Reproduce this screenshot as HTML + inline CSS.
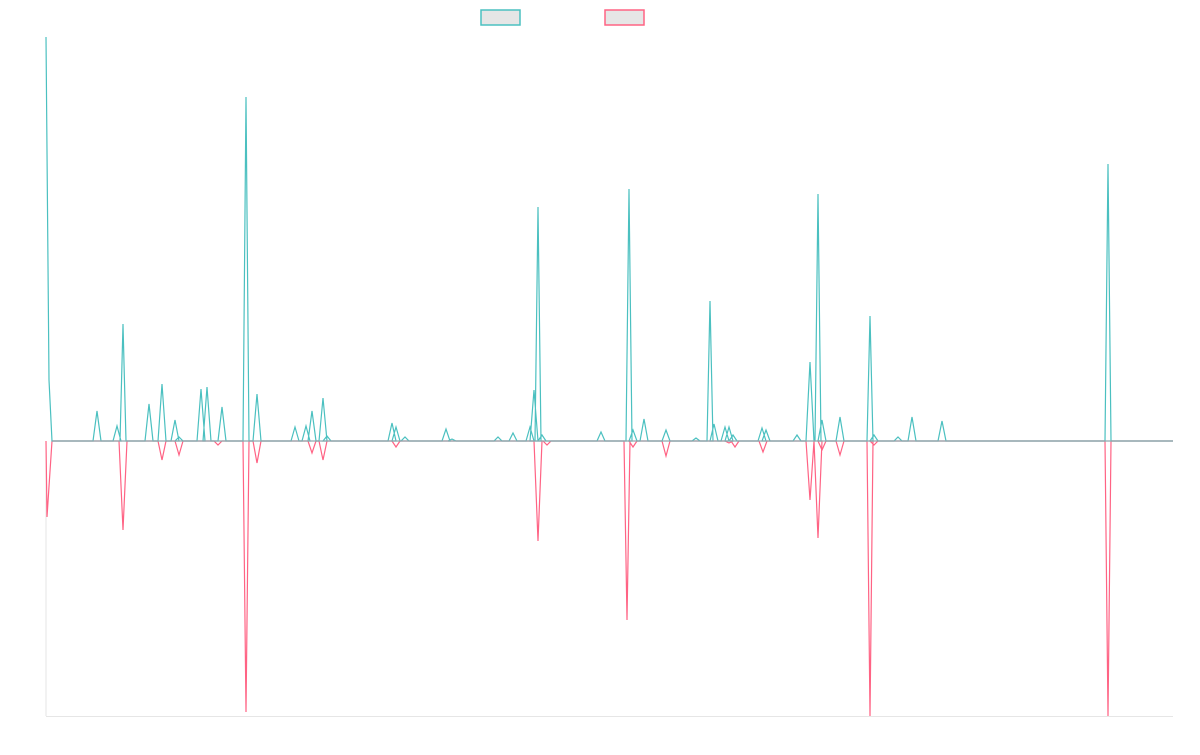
<!DOCTYPE html>
<html><head><meta charset="utf-8"><style>body{margin:0;background:#fff;width:1200px;height:750px;overflow:hidden}</style></head>
<body>
<svg id="s" width="1200" height="750" xmlns="http://www.w3.org/2000/svg">
<rect x="481" y="10" width="39" height="15" fill="#e6e6e6" stroke="#4bc0c0" stroke-width="1.5"/>
<rect x="605" y="10" width="39" height="15" fill="#e6e6e6" stroke="#ff6384" stroke-width="1.5"/>
<line x1="46" y1="441" x2="46" y2="716" stroke="#e6e6e6"/>
<line x1="46" y1="716.5" x2="1173" y2="716.5" stroke="#e6e6e6"/>
</svg>
<script>
const B=441;
function path(sp,first){
 let d="M46 "+first+" L49 "+(first<B?380:470)+" L52 "+B;
 for(const [x,y] of sp){const h=Math.abs(y-B)>100?3:4;d+=" L"+(x-h)+" "+B+" L"+x+" "+y+" L"+(x+h)+" "+B;}
 d+=" L1173 "+B;return d;}
const teal=[[97,411],[117,426],[123,324],[149,404],[162,384],[175,420],[179,437],[201,389],[207,387],[222,407],[246,97],[257,394],[295,427],[306,426],[312,411],[323,398],[327,436],[392,423],[396,427],[405,437],[446,429],[452,439],[498,437],[513,433],[530,427],[534,390],[538,207],[542,435],[601,432],[629,189],[633,430],[644,419],[666,430],[696,438],[710,301],[714,424],[725,427],[729,427],[733,435],[762,428],[766,430],[797,435],[810,362],[818,194],[822,420],[840,417],[870,316],[874,435],[898,437],[912,417],[942,421],[1108,164]];
const pink=[[123,530],[162,460],[179,455],[218,445],[246,712],[257,463],[312,453],[323,460],[396,447],[538,541],[547,445],[627,620],[633,447],[666,456],[729,443],[735,447],[763,452],[810,500],[818,538],[822,450],[840,455],[870,716],[874,445],[1108,716]];
const s=document.getElementById('s');
function add(d,c){const p=document.createElementNS("http://www.w3.org/2000/svg","path");p.setAttribute("d",d);p.setAttribute("fill","none");p.setAttribute("stroke",c);p.setAttribute("stroke-width","1.2");s.appendChild(p);}
add(path(pink,441).replace("L49 470","L47 517"),"#ff6384");
add(path(teal,37),"#4bc0c0");
const l=document.createElementNS("http://www.w3.org/2000/svg","line");
l.setAttribute("x1",52);l.setAttribute("x2",1173);l.setAttribute("y1",441);l.setAttribute("y2",441);l.setAttribute("stroke","#8fa8ad");l.setAttribute("stroke-width","1.2");s.appendChild(l);
</script>
</body></html>
